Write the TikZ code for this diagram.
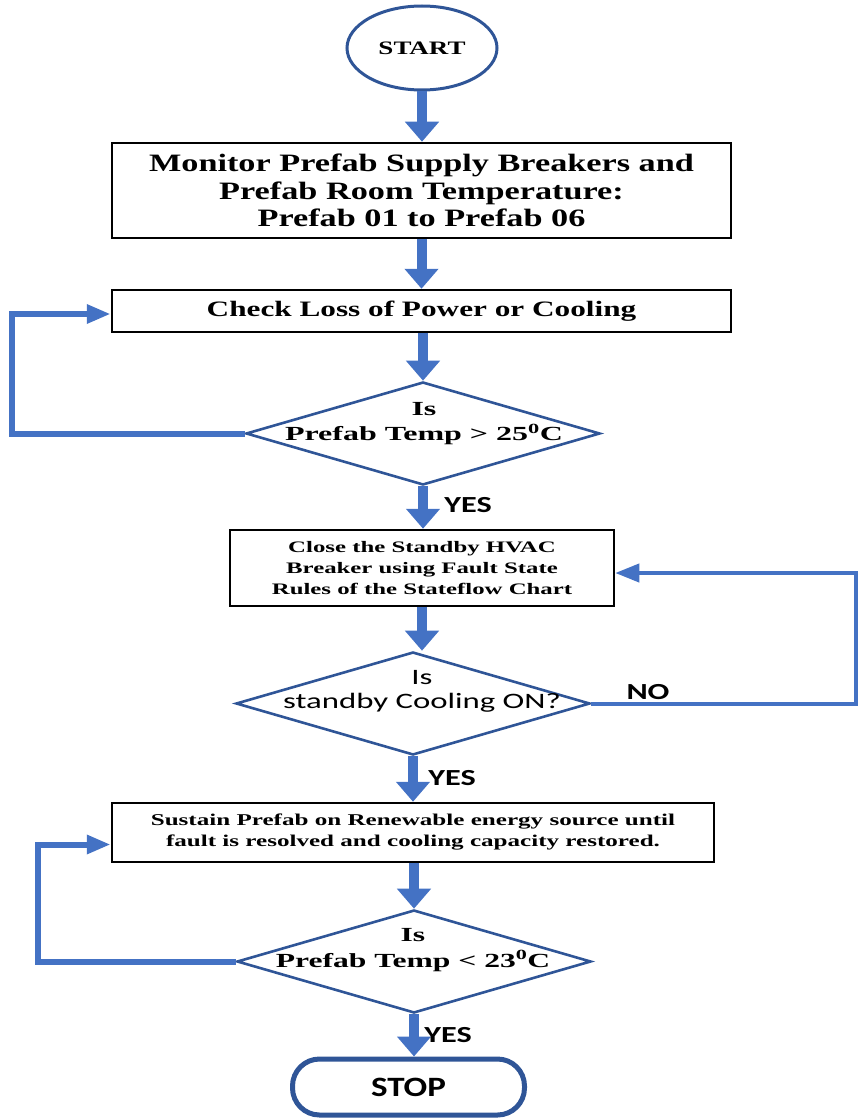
\documentclass[tikz,border=0pt]{standalone}
\usepackage{fontspec}
\setmainfont{Liberation Serif}
\newfontfamily\sansfnt{Carlito}
\usetikzlibrary{shapes.geometric,arrows.meta}
\definecolor{flow}{HTML}{4472C4}
\definecolor{rim}{HTML}{2F5597}
% size, leading, horizontal stretch
\newcommand\fs[3]{\fontsize{#1}{#2}\selectfont\addfontfeatures{FakeStretch=#3}}
\newsavebox\monbox
\begin{document}
\begin{tikzpicture}[x=1pt,y=-1pt,
  box/.style={draw=black, line width=2.5pt, align=center, inner sep=0pt},
  decision/.style={diamond, draw=rim, line width=2.6pt, inner sep=0pt},
  dlabel/.style={align=center, inner sep=0pt},
  mainflow/.style={draw=flow, line width=10pt, -{Triangle[width=33pt,length=20pt]}},
  loopflow/.style={draw=flow, line width=6pt, -{Triangle[width=18pt,length=24pt]}},
  noflow/.style={draw=flow, line width=4pt, -{Triangle[width=18pt,length=24pt]}},
  answer/.style={font={\sansfnt\bfseries\fs{23}{26}{1.4}}, inner sep=0pt}
]
\useasboundingbox (0,0) rectangle (859,1118);

% terminals, process boxes and decisions
\node[ellipse, draw=rim, line width=3pt, minimum width=150pt, minimum height=84pt,
      font={\bfseries\fs{19}{22}{1.42}}] (start) at (422,48) {START};
\node[box, minimum width=619pt, minimum height=95pt,
      font={\bfseries\fs{25}{27.5}{1.37}}] (mon) at (421.5,190.5)
      {\sbox\monbox{\begin{tabular}{@{}c@{}}Monitor Prefab Supply Breakers and\\Prefab Room Temperature:\\Prefab 01 to Prefab 06\end{tabular}}%
       \raisebox{-3pt}[\ht\monbox][\dp\monbox]{\usebox\monbox}};
\node[box, minimum width=619pt, minimum height=42pt,
      font={\bfseries\fs{22}{26}{1.42}}] (chk) at (421.5,311) {Check Loss of Power or Cooling};
\node[decision, minimum width=354pt, minimum height=103pt] (d1) at (423,433.5) {};
\node[dlabel, font={\bfseries\fs{20}{25}{1.6}}] (d1t) at (424,424)
      {Is\\Prefab Temp > 25\textsuperscript{0}C};
\node[box, minimum width=384pt, minimum height=76pt,
      font={\bfseries\fs{16}{21}{1.55}}] (cls) at (422,568)
      {Close the Standby HVAC\\Breaker using Fault State\\Rules of the Stateflow Chart};
\node[decision, minimum width=354pt, minimum height=103pt] (d2) at (413,703.5) {};
\node[dlabel, font={\sansfnt\fs{22}{24}{1.49}}] (d2t) at (422,691) {Is\\standby Cooling ON?};
\node[box, minimum width=602pt, minimum height=59pt,
      font={\bfseries\fs{16.5}{21}{1.52}}] (sus) at (413,832.5)
      {Sustain Prefab on Renewable energy source until\\fault is resolved and cooling capacity restored.};
\node[decision, minimum width=354pt, minimum height=103pt] (d3) at (414,961.5) {};
\node[dlabel, font={\bfseries\fs{20}{26}{1.58}}] (d3t) at (413,950)
      {Is\\Prefab Temp < 23\textsuperscript{0}C};
\node[draw=rim, line width=5pt, rounded corners=27pt, minimum width=232pt, minimum height=56pt,
      font={\sansfnt\bfseries\fs{28}{30}{1.25}}] (stop) at (408.5,1087) {STOP};

% main downward flow
\draw[mainflow] (start.south) -- (start.south |- mon.north);
\draw[mainflow] (mon.south) -- (chk.north);
\draw[mainflow] (d1.north |- chk.south) -- (d1.north);
\draw[mainflow] (d1.south) -- (d1.south |- cls.north);
\draw[mainflow] (cls.south) -- (cls.south |- d2.north);
\draw[mainflow] (d2.south) -- (d2.south |- sus.north);
\draw[mainflow] (d3.north |- sus.south) -- (d3.north);
\draw[mainflow] (d3.south) -- (d3.south |- stop.north);

% return loops
\coordinate (l1) at (12,433.5);
\coordinate (l2) at (856,703.5);
\coordinate (l3) at (38,961.5);
\draw[loopflow] (d1.west) -- (l1) |- ([yshift=-3pt]chk.west);
\draw[noflow] (d2.east) -- (l2) |- ([yshift=-5pt]cls.east);
\draw[loopflow] (d3.west) -- (l3) |- ([yshift=-12pt]sus.west);

% branch labels
\node[answer] (y1) at (468,505) {YES};
\node[answer] (y2) at (452,778) {YES};
\node[answer] (y3) at (448,1035) {YES};
\node[answer] (no) at (648,692) {NO};
\end{tikzpicture}
\end{document}
